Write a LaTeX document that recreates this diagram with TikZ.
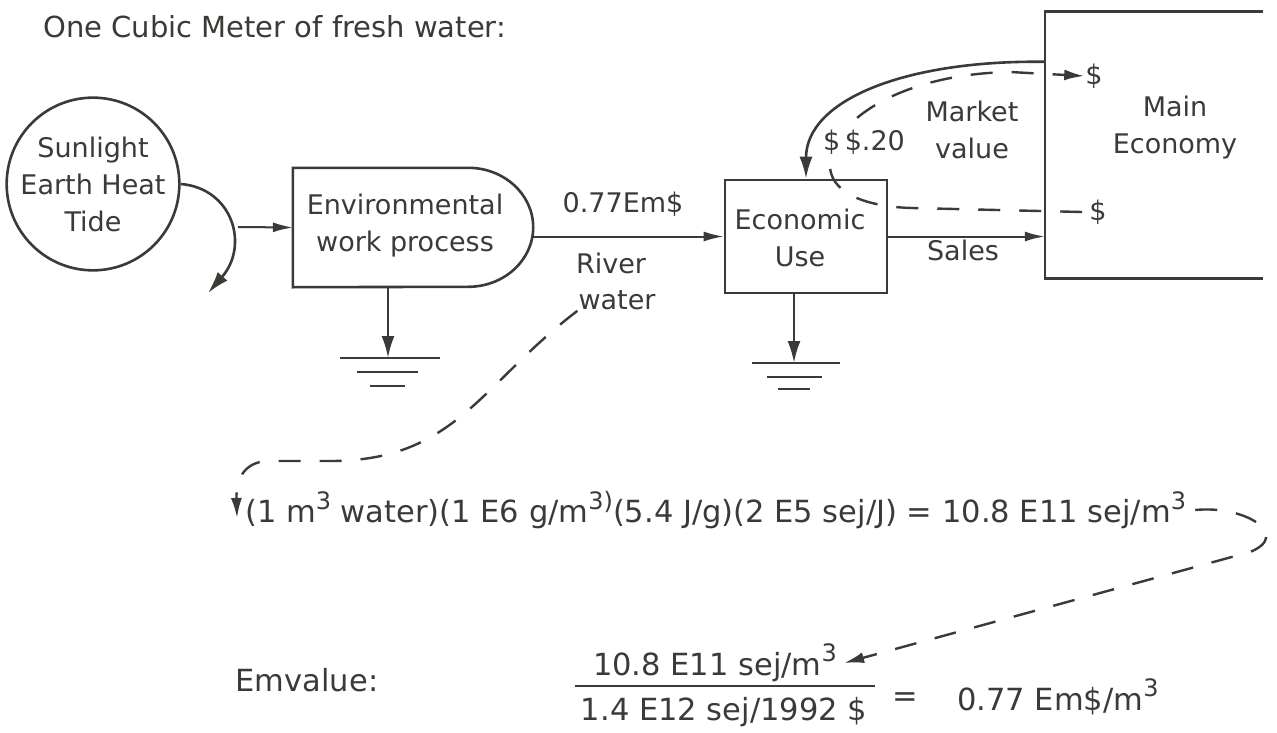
\documentclass[tikz,border=0pt]{standalone}
\usepackage{fontspec}
\setmainfont{DejaVu Sans}
\usetikzlibrary{arrows.meta}
\definecolor{ink}{HTML}{3A3A36}
\newcommand\supx[1]{\raisebox{0.45em}{\fontsize{24}{24}\selectfont #1}}
\begin{document}
\begin{tikzpicture}[x=1pt,y=-1pt,
  lbl/.style={text=ink,inner sep=1pt,font=\fontsize{27}{37}\selectfont,align=center},
  big/.style={text=ink,inner sep=1pt,font=\fontsize{30.5}{36}\selectfont},
  box/.style={draw=ink,line width=2.6pt},
  flow/.style={draw=ink,line width=2pt,-{Latex[length=20pt,width=10pt]}},
  heavy/.style={draw=ink,line width=2.6pt,-{Latex[length=22pt,width=13pt]}},
  money/.style={draw=ink,line width=2.4pt,dash pattern=on 22pt off 19pt,-{Latex[length=20pt,width=11pt]}},
  gnd/.style={draw=ink,line width=2.4pt}]
\useasboundingbox (0,0) rectangle (1277,733);
\fill[white] (0,0) rectangle (1277,733);

% title
\node[lbl,anchor=west,font=\fontsize{29}{34}\selectfont] (title) at (42,27) {One Cubic Meter of fresh water:};

% source circle
\node[lbl,circle,draw=ink,line width=2.6pt,minimum size=164pt,inner sep=0pt] (src) at (93,184) {Sunlight\\Earth Heat\\Tide};
\coordinate (sink1) at (208,293);
\draw[heavy] (src.east) .. controls (232,188) and (250,245) .. (sink1);

% environmental work process
\node[minimum width=240pt,minimum height=119pt,inner sep=0pt] (env) at (413,227.5) {};
\draw[box] (env.north west) -- ([xshift=-65pt]env.north east)
  arc[start angle=-90,end angle=90,x radius=65,y radius=59.5]
  -- (env.south west) -- cycle;
\node[lbl] (envtxt) at (405,226) {Environmental\\work process};
\coordinate (in1) at (238,227);
\draw[flow] (in1) -- (env.west);

% economic use
\node[box,minimum width=162pt,minimum height=113pt,inner sep=0pt] (eco) at (806,236.5) {};
\node[lbl] (ecotxt) at (800,238) {Economic\\Use};
\draw[flow] (eco.west -| env.east) -- (eco.west);
\node[lbl] (em) at (623,204) {0.77Em\$};
\node[lbl] (river) at (611,263) {River};
\node[lbl] (water) at (617,300) {water};

% ground symbols
\coordinate (g1) at (388,358);
\draw[heavy] (env.south -| g1) -- (g1);
\draw[gnd] (340,358) -- (440,358) (357,372) -- (418,372) (370,386) -- (405,386);
\coordinate (g2) at (794,363);
\draw[heavy] (eco.south -| g2) -- (g2);
\draw[gnd] (752,363) -- (840,363) (767,377) -- (822,377) (778,389) -- (810,389);

% main economy
\node[minimum width=218pt,minimum height=266pt,inner sep=0pt] (main) at (1154,145) {};
\draw[box] (main.north east) -- (main.north west) -- (main.south west) -- (main.south east);
\node[lbl] (maintxt) at (1175,128) {Main\\Economy};
\draw[flow] (eco.east) -- (eco.east -| main.west);
\node[lbl] (sales) at (963,250) {Sales};

% money loop
\node[lbl] (d1) at (1094,76) {\$};
\node[lbl] (d2) at (1098,212) {\$};
\draw[money] ([xshift=-6pt]d2.west) -- (912,208) .. controls (872,207) and (833,196) .. (830,168)
  .. controls (828,122) and (900,74) .. (1010,72) -- (d1.west);
\node[lbl,fill=white,minimum height=40pt] (price) at (864,142) {\$\,\$.20};
\node[lbl] (market) at (972,130) {Market\\value};
\draw[heavy] ([yshift=-50pt]main.north west) .. controls (905,60) and (806,100) .. (eco.north);

% emergy equation
\node[big,anchor=west] (eqn) at (244,510) {(1 m\supx{3} water)(1 E6 g/m\supx{3)}(5.4 J/g)(2 E5 sej/J) = 10.8 E11 sej/m\supx{3}};
\coordinate (eqtip) at (237,518);
\draw[money] (water.south west) .. controls (480,385) and (455,461) .. (330,461) -- (268,461)
  .. controls (242,462) and (236,482) .. (eqtip);

% emvalue
\node[big] (emv) at (307,680) {Emvalue:};
\node[big] (num) at (715,663) {10.8 E11 sej/m\supx{3}};
\node[big] (den) at (724,712) {1.4 E12 sej/1992 \$};
\draw[gnd] (575,686) -- (875,686);
\node[big] (eq) at (905,700) {=};
\node[big] (res) at (1058,697) {0.77 Em\$/m\supx{3}};
\draw[money] ([xshift=8pt]eqn.east) .. controls (1245,505) and (1292,535) .. (1250,552) -- ([xshift=6pt]num.east);
\end{tikzpicture}
\end{document}
